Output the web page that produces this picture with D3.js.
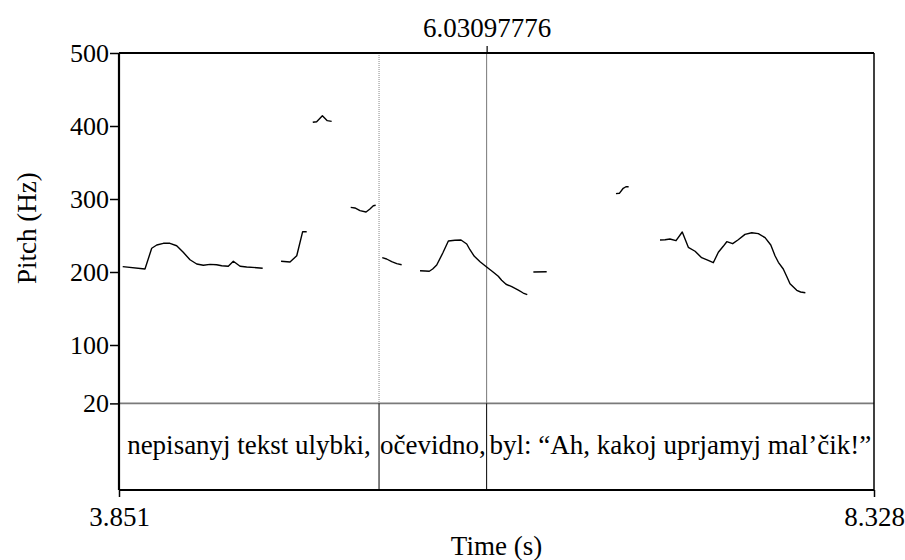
<!DOCTYPE html>
<html>
<head>
<meta charset="utf-8">
<script src="https://cdn.jsdelivr.net/npm/d3@7"></script>
<style>
  html, body { margin: 0; padding: 0; background: #fff; }
  svg { display: block; }
  text { font-family: "Liberation Serif", "Times New Roman", serif; fill: #000; }
</style>
</head>
<body>
<svg id="chart" width="905" height="560"></svg>
<script>
// ---- Data (time in s, pitch in Hz) ----
const timeDomain = [3.851, 8.328];
const pitchDomain = [20, 500];
const pitchTicks = [20, 100, 200, 300, 400, 500];
const timeTicks = [3.851, 8.328];
const cursorTime = [6.03097776];
const boundaryDotted = 5.393;
const boundarySolid = 6.03097776;

const tierLabels = ["nepisanyj tekst ulybki,", "očevidno,", "byl: “Ah, kakoj uprjamyj mal’čik!”"];
const tierBounds = [3.851, 5.393, 6.03097776, 8.328];

const seg1 = [[3.873,207.3],[4.005,204.1],[4.045,232.5],[4.075,237],[4.114,239.3],[4.153,239.3],[4.193,236],[4.232,227],[4.272,216.8],[4.312,211],[4.351,209.2],[4.391,210.5],[4.430,210],[4.460,208.6],[4.499,207.8],[4.529,214.7],[4.569,207.8],[4.608,206.8],[4.668,205.9],[4.703,205.1]];
const seg2 = [[4.812,214.7],[4.865,213.7],[4.905,222.3],[4.940,255.2],[4.964,255.2]];
const seg3 = [[5.000,405.1],[5.023,405.9],[5.057,414.1],[5.086,407.3],[5.112,406.4]];
const seg4 = [[5.225,288.6],[5.250,287.7],[5.280,284],[5.316,282.2],[5.339,286.3],[5.359,290.8],[5.373,291.4]];
const seg5 = [[5.412,219.6],[5.438,217.8],[5.468,214.1],[5.498,211.4],[5.527,210]];
const seg6 = [[5.636,201.8],[5.666,201.4],[5.691,201],[5.711,204.1],[5.735,209.6],[5.771,226],[5.804,242.5],[5.843,243.4],[5.879,243.8],[5.913,238.4],[5.932,230.5],[5.958,221.5],[5.992,214.1],[6.031,206.8],[6.071,199.6],[6.100,194.1],[6.120,188.6],[6.146,183.2],[6.180,179.9],[6.219,175.3],[6.248,171.2],[6.272,168.9]];
const seg7 = [[6.308,200],[6.387,200.4]];
const seg8 = [[6.798,307.3],[6.818,307.8],[6.841,314.7],[6.857,316.8],[6.873,316.8]];
const seg9 = [[7.059,243.8],[7.089,244.2],[7.118,245.2],[7.154,242.9],[7.191,254.8],[7.227,233.8],[7.267,228.4],[7.306,219.6],[7.345,216],[7.375,212.7],[7.405,227],[7.434,235.2],[7.455,241.5],[7.490,238.8],[7.523,244.2],[7.563,251.6],[7.603,253.8],[7.642,252.5],[7.682,247],[7.716,237],[7.741,222.3],[7.761,213.3],[7.790,204.1],[7.810,194.1],[7.830,184],[7.870,174.9],[7.893,172.6],[7.921,171.6]];
const pitchSegments = [seg1, seg2, seg3, seg4, seg5, seg6, seg7, seg8, seg9];

// ---- Layout ----
const L = 119, R = 874, T = 53, Y20 = 403.4, B = 490;
const svg = d3.select("#chart");

const x = d3.scaleLinear().domain(timeDomain).range([L, R]);
const y = d3.scaleLinear().domain(pitchDomain).range([Y20, T]);

// boundary lines in pitch area
svg.append("line")
  .attr("x1", x(boundaryDotted)).attr("x2", x(boundaryDotted))
  .attr("y1", T).attr("y2", Y20)
  .attr("stroke", "#888").attr("stroke-width", 1).attr("stroke-dasharray", "1,1");
svg.append("line")
  .attr("x1", x(boundarySolid)).attr("x2", x(boundarySolid))
  .attr("y1", T).attr("y2", Y20)
  .attr("stroke", "#777").attr("stroke-width", 1);

// pitch contour
const line = d3.line().x(d => x(d[0])).y(d => y(d[1]));
svg.append("g").selectAll("path").data(pitchSegments).join("path")
  .attr("d", line)
  .attr("fill", "none").attr("stroke", "#000").attr("stroke-width", 1.4)
  .attr("stroke-linejoin", "round");

// 20 Hz separator line
svg.append("line").attr("x1", L).attr("x2", R).attr("y1", Y20).attr("y2", Y20)
  .attr("stroke", "#7a7a7a").attr("stroke-width", 1.8);

// tier boundaries
svg.append("g").selectAll("line").data(tierBounds.slice(1, -1)).join("line")
  .attr("x1", d => x(d)).attr("x2", d => x(d))
  .attr("y1", Y20).attr("y2", B)
  .attr("stroke", "#000").attr("stroke-width", 1);

// tier labels
svg.append("g").selectAll("text").data(tierLabels).join("text")
  .attr("x", (d, i) => (x(tierBounds[i]) + x(tierBounds[i + 1])) / 2)
  .attr("y", 454)
  .attr("text-anchor", "middle")
  .attr("font-size", 27)
  .text(d => d);

// frame
svg.append("line").attr("x1", L).attr("x2", R).attr("y1", T).attr("y2", T).attr("stroke", "#000").attr("stroke-width", 2.2);
svg.append("line").attr("x1", L).attr("x2", R).attr("y1", B).attr("y2", B).attr("stroke", "#000").attr("stroke-width", 2.2);
svg.append("line").attr("x1", L).attr("x2", L).attr("y1", T).attr("y2", B).attr("stroke", "#000").attr("stroke-width", 2.2);
svg.append("line").attr("x1", R).attr("x2", R).attr("y1", T).attr("y2", B).attr("stroke", "#000").attr("stroke-width", 1.5);

// left axis
const yAxis = d3.axisLeft(y).tickValues(pitchTicks).tickSize(9).tickPadding(1).tickFormat(d3.format("d"));
const gy = svg.append("g").attr("transform", `translate(${L},0)`).call(yAxis);
gy.select(".domain").remove();
gy.selectAll(".tick line").attr("stroke", "#000").attr("stroke-width", 1.5);
gy.selectAll(".tick text").attr("font-size", 26).attr("font-family", "Liberation Serif").attr("fill", "#000").attr("dy", "0.32em");

// bottom axis
const xAxis = d3.axisBottom(x).tickValues(timeTicks).tickSize(7).tickPadding(10).tickFormat(d3.format(".3f"));
const gx = svg.append("g").attr("transform", `translate(0,${B})`).call(xAxis);
gx.select(".domain").remove();
gx.selectAll(".tick line").attr("stroke", "#000").attr("stroke-width", 1.5);
gx.selectAll(".tick text").attr("font-size", 27).attr("font-family", "Liberation Serif").attr("fill", "#000");

// top cursor axis
const topAxis = d3.axisTop(x).tickValues(cursorTime).tickSize(7).tickPadding(9).tickFormat(d3.format(".8f"));
const gt = svg.append("g").attr("transform", `translate(0,${T})`).call(topAxis);
gt.select(".domain").remove();
gt.selectAll(".tick line").attr("stroke", "#000").attr("stroke-width", 1.2);
gt.selectAll(".tick text").attr("font-size", 27).attr("font-family", "Liberation Serif").attr("fill", "#000");

// axis titles
svg.append("text").attr("x", (L + R) / 2).attr("y", 555)
  .attr("text-anchor", "middle").attr("font-size", 27).text("Time (s)");
svg.append("text").attr("transform", `translate(36,${(T + Y20) / 2}) rotate(-90)`)
  .attr("text-anchor", "middle").attr("font-size", 27).text("Pitch (Hz)");
</script>
</body>
</html>
